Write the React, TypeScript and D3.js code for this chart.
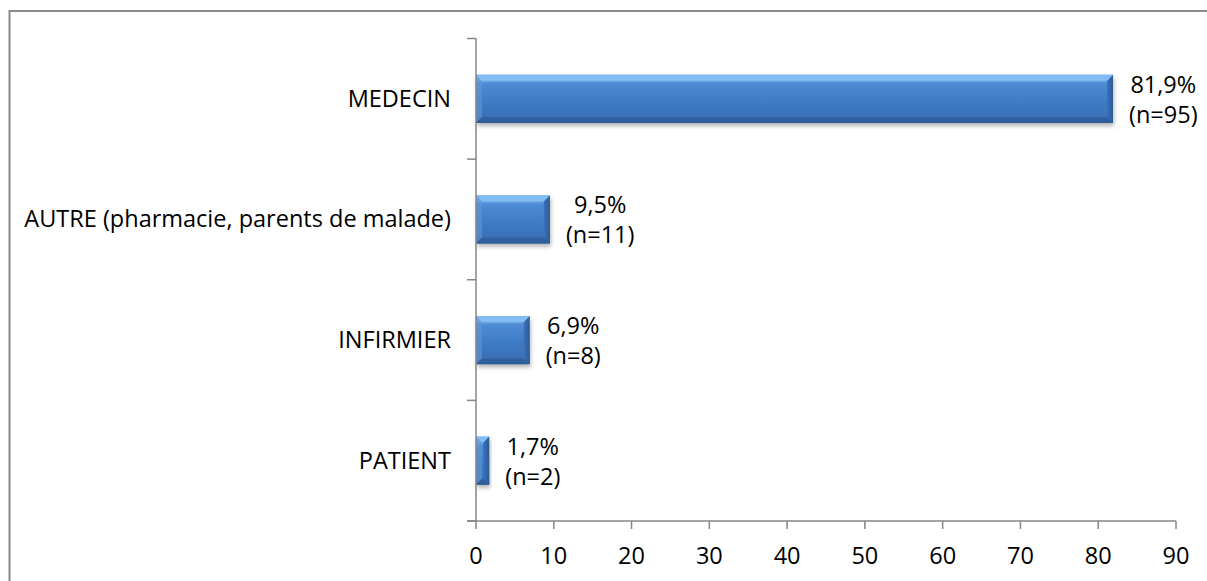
import React, { useEffect, useRef } from 'react';
import * as d3 from 'd3';

const categories = ['MEDECIN', 'AUTRE (pharmacie, parents de malade)', 'INFIRMIER', 'PATIENT'];
const percents = [81.9, 9.5, 6.9, 1.7];
const counts = [95, 11, 8, 2];
const xTicks = [0, 10, 20, 30, 40, 50, 60, 70, 80, 90];

const W = 1207;
const H = 581;
const FONT = '"Open Sans", sans-serif';
const FS = 23.5;

const App: React.FC = () => {
  const svgRef = useRef<SVGSVGElement | null>(null);

  useEffect(() => {
    const svgEl = svgRef.current;
    if (!svgEl) return;
    const svg = d3.select(svgEl);
    svg.selectAll('*').remove();

    const left = 476;
    const right = 1176;
    const top = 38.5;
    const bottom = 521;
    const axisColor = '#868686';

    const x = d3.scaleLinear().domain([0, 90]).range([left, right]);
    const y = d3.scaleBand<string>().domain(categories).range([top, bottom]).paddingInner(0.6).paddingOuter(0.3);
    const band = (bottom - top) / categories.length;

    const defs = svg.append('defs');
    const grad = defs.append('linearGradient').attr('id', 'barGrad').attr('x1', 0).attr('y1', 0).attr('x2', 0).attr('y2', 1);
    [
      ['0%', '#6aa6ea'],
      ['10%', '#7db7f2'],
      ['18%', '#4f8bd4'],
      ['55%', '#3f7bc6'],
      ['88%', '#3a70b6'],
      ['100%', '#2c5a94']
    ].forEach(([o, c]) => grad.append('stop').attr('offset', o).attr('stop-color', c));
    const endGrad = defs.append('linearGradient').attr('id', 'endGrad').attr('x1', 0).attr('y1', 0).attr('x2', 1).attr('y2', 0);
    endGrad.append('stop').attr('offset', '0%').attr('stop-color', '#3a72bb');
    endGrad.append('stop').attr('offset', '100%').attr('stop-color', '#2b5a96');
    const shadow = defs.append('filter').attr('id', 'shadow').attr('x', '-10%').attr('y', '-20%').attr('width', '130%').attr('height', '160%');
    shadow.append('feDropShadow').attr('dx', 1).attr('dy', 3).attr('stdDeviation', 2).attr('flood-color', '#000').attr('flood-opacity', 0.3);

    // outer chart border (only left and top edges are inside the picture)
    svg.append('path')
      .attr('d', `M9.5,${H} L9.5,11 L${W},11`)
      .attr('fill', 'none').attr('stroke', '#8a8a8a').attr('stroke-width', 2);

    // bars
    const bars = svg.append('g');
    categories.forEach((cat, i) => {
      const y0 = y(cat)!;
      const h = y.bandwidth();
      const x1 = x(percents[i]);
      const w = x1 - left;
      const bev = Math.min(6, w / 2);
      const g = bars.append('g');
      g.append('rect').attr('x', left).attr('y', y0).attr('width', w).attr('height', h)
        .attr('fill', 'url(#barGrad)').attr('filter', 'url(#shadow)');
      g.append('path')
        .attr('d', `M${left},${y0} L${left + bev},${y0 + bev} L${left + bev},${y0 + h - bev} L${left},${y0 + h} Z`)
        .attr('fill', '#5d97dc').attr('opacity', 0.6);
      g.append('path')
        .attr('d', `M${x1},${y0} L${x1 - bev},${y0 + bev} L${x1 - bev},${y0 + h - bev} L${x1},${y0 + h} Z`)
        .attr('fill', 'url(#endGrad)');
      g.append('path')
        .attr('d', `M${left},${y0} L${x1},${y0} L${x1 - bev},${y0 + bev} L${left + bev},${y0 + bev} Z`)
        .attr('fill', '#86bff5').attr('opacity', 0.8);
      g.append('path')
        .attr('d', `M${left},${y0 + h} L${x1},${y0 + h} L${x1 - bev},${y0 + h - bev} L${left + bev},${y0 + h - bev} Z`)
        .attr('fill', '#2d5c98').attr('opacity', 0.7);
    });

    // y axis
    svg.append('line').attr('x1', left).attr('x2', left).attr('y1', top).attr('y2', bottom)
      .attr('stroke', axisColor).attr('stroke-width', 1.5);
    d3.range(categories.length + 1).forEach((k) => {
      const yy = top + k * band;
      svg.append('line').attr('x1', left - 9).attr('x2', left).attr('y1', yy).attr('y2', yy)
        .attr('stroke', axisColor).attr('stroke-width', 1.5);
    });

    // x axis
    svg.append('line').attr('x1', left - 9).attr('x2', right).attr('y1', bottom).attr('y2', bottom)
      .attr('stroke', axisColor).attr('stroke-width', 1.5);
    xTicks.forEach((t) => {
      svg.append('line').attr('x1', x(t)).attr('x2', x(t)).attr('y1', bottom).attr('y2', bottom + 8)
        .attr('stroke', axisColor).attr('stroke-width', 1.5);
      svg.append('text').attr('x', x(t)).attr('y', 564).attr('text-anchor', 'middle')
        .attr('font-family', FONT).attr('font-size', FS).attr('fill', '#000').text(String(t));
    });

    // category labels
    categories.forEach((cat) => {
      const cy = y(cat)! + y.bandwidth() / 2;
      svg.append('text').attr('x', 451).attr('y', cy + 8).attr('text-anchor', 'end')
        .attr('font-family', FONT).attr('font-size', FS).attr('fill', '#000').text(cat);
    });

    // value labels
    categories.forEach((cat, i) => {
      const cy = y(cat)! + y.bandwidth() / 2;
      const lines = [`${percents[i].toFixed(1).replace('.', ',')}%`, `(n=${counts[i]})`];
      const g = svg.append('g');
      const texts = lines.map((s, k) =>
        g.append('text').attr('y', cy - 6 + k * 30).attr('text-anchor', 'middle')
          .attr('font-family', FONT).attr('font-size', FS).attr('fill', '#000').text(s)
      );
      const widest = d3.max(texts, (t) => (t.node() as SVGTextElement).getComputedTextLength()) || 0;
      const cx = x(percents[i]) + 16 + widest / 2;
      texts.forEach((t) => t.attr('x', cx));
    });
  }, []);

  return (
    <div style={{ position: 'absolute', left: 0, top: 0, width: W, height: H, background: '#fff' }}>
      <svg ref={svgRef} width={W} height={H} style={{ display: 'block' }}></svg>
    </div>
  );
};

export default App;
